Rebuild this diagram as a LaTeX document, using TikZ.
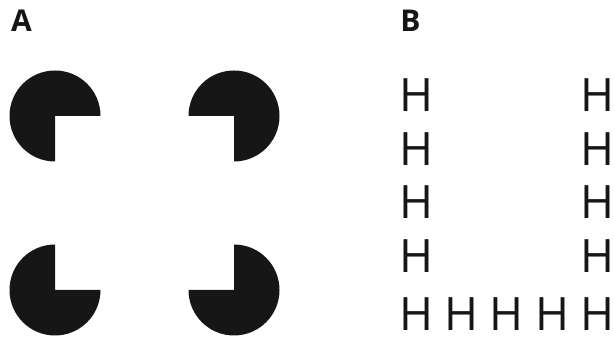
\documentclass[tikz,border=0pt]{standalone}
\usepackage{fontspec}
\setmainfont{Open Sans}
\usepackage{xcolor}
\usepackage{tikz}
\usetikzlibrary{positioning}
\definecolor{ink}{HTML}{161616}

\begin{document}
\begin{tikzpicture}[
  x=1pt,y=1pt,
  panel/.style={font=\fontsize{30}{30}\selectfont\bfseries,text=ink,inner sep=0pt},
  letter/.style={font=\fontsize{46}{46}\selectfont,text=ink,inner sep=0pt},
  pac/.style={fill=ink,draw=none}
]
\useasboundingbox (0,0) rectangle (615,339);
% panel labels
\node[panel] (labA) at (21.5,318) {A};
\node[panel] (labB) at (410.5,318) {B};
% A: four inducers, missing quarter turned inwards
\foreach \cx/\cy/\gap in {55/223/270, 234/223/180, 55/49/0, 234/49/90}
  \fill[pac] (\cx,\cy) -- ++(\gap+90:45.5) arc[start angle=\gap+90,end angle=\gap+360,radius=45.5] -- cycle;
% B: small H's making a big U
\foreach \i/\y in {1/244,2/190,3/137,4/83}{
  \node[letter] (left\i) at (416,\y) {H};
  \node[letter] (right\i) at (597,\y) {H};
}
\foreach \i/\x in {1/416,2/461,3/506,4/552,5/597}
  \node[letter] (bottom\i) at (\x,25) {H};
\end{tikzpicture}
\end{document}
